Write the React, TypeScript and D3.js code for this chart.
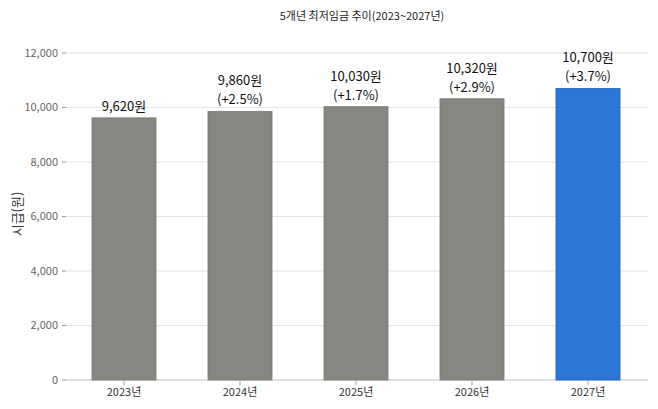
import React from 'react';
import * as d3 from 'd3';

const years = ['2023년', '2024년', '2025년', '2026년', '2027년'];
const wages = [9620, 9860, 10030, 10320, 10700];
const valueLabels = ['9,620원', '9,860원', '10,030원', '10,320원', '10,700원'];
const changeLabels = ['', '(+2.5%)', '(+1.7%)', '(+2.9%)', '(+3.7%)'];
const yTicks = [0, 2000, 4000, 6000, 8000, 10000, 12000];

const W = 658;
const H = 409;
const FONT = '"Noto Sans CJK KR", "Noto Sans", sans-serif';

function App() {
	const x = d3.scaleBand()
		.domain(years)
		.range([66, 646])
		.paddingInner(0.448)
		.paddingOuter(0.224);
	const y = d3.scaleLinear()
		.domain([0, 12000])
		.range([380, 53]);
	const fmt = d3.format(',');

	return (
		<svg width={W} height={H} style={{ position: 'absolute', left: 0, top: 0, fontFamily: FONT }}>
			<rect width={W} height={H} fill="#fff" />
			<text x={362} y={20} textAnchor="middle" fontSize={11} fill="#222">5개년 최저임금 추이(2023~2027년)</text>

			{/* grid + y axis */}
			{yTicks.map(t => (
				<g key={t}>
					<line x1={66} x2={648} y1={y(t)} y2={y(t)} stroke={t === 0 ? '#d6d6d6' : '#e4e4e4'} strokeWidth={t === 0 ? 1.5 : 1} />
					<line x1={62} x2={66} y1={y(t)} y2={y(t)} stroke="#999" />
					<text x={58} y={y(t)} dy="0.35em" textAnchor="end" fontSize={11} fill="#666">{fmt(t)}</text>
				</g>
			))}
			<text transform="translate(22,214) rotate(-90)" textAnchor="middle" fontSize={13} fill="#333">시급(원)</text>

			{/* bars */}
			{years.map((yr, i) => {
				const last = i === years.length - 1;
				const bx = x(yr) as number;
				const top = y(wages[i]);
				const cx = bx + x.bandwidth() / 2;
				return (
					<g key={yr}>
						<rect x={bx} y={top} width={x.bandwidth()} height={y(0) - top}
							fill={last ? '#2a77d6' : '#878681'} stroke={last ? '#1f62b5' : '#7a7974'} strokeWidth={0.8} />
						{changeLabels[i] ? (
							<>
								<text x={cx} y={top - 26} textAnchor="middle" fontSize={13} fill="#111">{valueLabels[i]}</text>
								<text x={cx} y={top - 7} textAnchor="middle" fontSize={13} fill="#111">{changeLabels[i]}</text>
							</>
						) : (
							<text x={cx} y={top - 7} textAnchor="middle" fontSize={13} fill="#111">{valueLabels[i]}</text>
						)}
						<line x1={cx} x2={cx} y1={381} y2={385} stroke="#999" />
						<text x={cx} y={396} textAnchor="middle" fontSize={11} fill="#333">{yr}</text>
					</g>
				);
			})}
		</svg>
	);
}

export default App;
